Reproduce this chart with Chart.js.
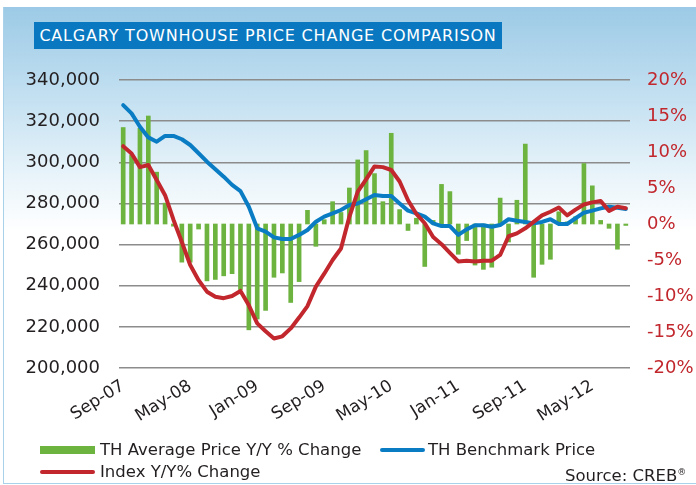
<!DOCTYPE html>
<html>
<head>
<meta charset="utf-8">
<script src="https://cdn.jsdelivr.net/npm/chart.js@4"></script>
<style>
  html, body { margin: 0; padding: 0; background: #fff; }
  #wrap { position: relative; width: 696px; height: 485px; overflow: hidden; font-family: "DejaVu Sans", sans-serif; }
  #panel {
    position: absolute; left: 3px; top: 7px; width: 700px; height: 476px;
    border-left: 1px solid #a9d1ea; border-bottom: 1px solid #a9d1ea;
    background: linear-gradient(#9ccae6 0px, #c3e0f1 90px, #e9f4fa 170px, #ffffff 225px, #ffffff 100%);
  }
  #title {
    position: absolute; left: 34px; top: 22px; width: 468px; height: 27px;
    background: #0a78c0; color: #fff; font-size: 16px; line-height: 27px;
    letter-spacing: 0.8px; text-align: center; white-space: nowrap;
  }
  canvas { position: absolute; left: 0; top: 0; }
  .leg { position: absolute; font-size: 16.5px; color: #231f20; white-space: nowrap; line-height: 20px; }
  .sw { position: absolute; }
  sup { font-size: 9px; line-height: 0; vertical-align: 6px; }
</style>
</head>
<body>
<div id="wrap">
  <div id="panel"></div>
  <div id="title">CALGARY TOWNHOUSE PRICE CHANGE COMPARISON</div>
  <canvas id="myChart" width="696" height="485"></canvas>
  <div class="sw" style="left:40px; top:446px; width:55px; height:8px; background:#6db33f;"></div>
  <div class="leg" style="left:100px; top:440px;">TH Average Price Y/Y % Change</div>
  <div class="sw" style="left:380px; top:448px; width:45px; height:4px; border-radius:2px; background:#0a7cc4;"></div>
  <div class="leg" style="left:428px; top:440px;">TH Benchmark Price</div>
  <div class="sw" style="left:40px; top:470px; width:55px; height:4px; border-radius:2px; background:#c1272d;"></div>
  <div class="leg" style="left:100px; top:462px;">Index Y/Y% Change</div>
  <div class="leg" style="left:565px; top:466px;">Source: CREB<sup>®</sup></div>
</div>
<script>
'use strict';

const months = [
  'Sep-07','Oct-07','Nov-07','Dec-07',
  'Jan-08','Feb-08','Mar-08','Apr-08','May-08','Jun-08','Jul-08','Aug-08','Sep-08','Oct-08','Nov-08','Dec-08',
  'Jan-09','Feb-09','Mar-09','Apr-09','May-09','Jun-09','Jul-09','Aug-09','Sep-09','Oct-09','Nov-09','Dec-09',
  'Jan-10','Feb-10','Mar-10','Apr-10','May-10','Jun-10','Jul-10','Aug-10','Sep-10','Oct-10','Nov-10','Dec-10',
  'Jan-11','Feb-11','Mar-11','Apr-11','May-11','Jun-11','Jul-11','Aug-11','Sep-11','Oct-11','Nov-11','Dec-11',
  'Jan-12','Feb-12','Mar-12','Apr-12','May-12','Jun-12','Jul-12','Aug-12','Sep-12'
];

// TH average price y/y % change (bars, right axis)
const avgPriceChange = [
  13.4, 9.6, 13.3, 15.0,
  7.2, 2.9, -0.3, -5.3, -5.3, -0.7, -7.9, -7.7, -7.2, -6.9, -9.1, -14.7,
  -13.2, -12.0, -7.4, -6.8, -10.9, -8.0, 1.9, -3.1, 0.6, 3.1, 1.6, 5.0,
  8.9, 10.2, 7.0, 3.1, 12.6, 2.0, -0.9, 0.8, -5.9, 0.5, 5.5, 4.5,
  -4.2, -2.3, -5.7, -6.3, -6.0, 3.6, -2.5, 3.3, 11.1, -7.4, -5.6, -4.9,
  1.7, 0.3, 1.0, 8.4, 5.3, 0.5, -0.6, -3.5, -0.2
];

// TH benchmark price (left axis)
const benchmarkPrice = [
  327800, 323800, 317300, 312100,
  310000, 312800, 312800, 311200, 308400, 304400, 300300, 296600, 293000, 289000, 286000, 278400,
  267900, 266300, 263500, 262700, 262700, 264700, 267100, 271100, 273600, 275200, 276800, 279200,
  280000, 282000, 284100, 283600, 283600, 280000, 276500, 275200, 273600, 270300, 269000, 269000,
  264700, 267400, 269400, 269400, 268700, 269500, 272300, 271600, 271000, 270300, 271000, 272300,
  270000, 270000, 272800, 275500, 276500, 277600, 278400, 277900, 277300
];

// Index y/y % change (right axis)
const indexChange = [
  10.8, 9.8, 7.9, 8.2,
  6.1, 4.0, 0.6, -2.5, -5.7, -7.8, -9.4, -10.1, -10.3, -10.0, -9.3, -11.3,
  -13.8, -14.9, -15.9, -15.6, -14.5, -13.0, -11.4, -8.7, -6.9, -5.0, -3.4, 1.0,
  4.5, 6.2, 8.0, 7.9, 7.5, 5.9, 3.3, 1.4, 0.1, -1.8, -2.8, -4.0,
  -5.2, -5.1, -5.2, -5.1, -5.1, -4.3, -1.7, -1.3, -0.6, 0.3, 1.2, 1.7,
  2.3, 1.2, 2.0, 2.7, 3.0, 3.2, 1.8, 2.4, 2.2
];

const tickFont = { family: 'DejaVu Sans', size: 18 };

const ctx = document.getElementById('myChart');

const config = {
  type: 'bar',
  data: {
    labels: months,
    datasets: [
      {
        type: 'line',
        label: 'Index Y/Y% Change',
        data: indexChange,
        yAxisID: 'yPct',
        borderColor: '#c1272d',
        borderWidth: 4,
        pointRadius: 0,
        tension: 0,
        borderJoinStyle: 'round',
        borderCapStyle: 'round',
        order: 0
      },
      {
        type: 'line',
        label: 'TH Benchmark Price',
        data: benchmarkPrice,
        yAxisID: 'yPrice',
        borderColor: '#0a7cc4',
        borderWidth: 4,
        pointRadius: 0,
        tension: 0,
        borderJoinStyle: 'round',
        borderCapStyle: 'round',
        order: 1
      },
      {
        label: 'TH Average Price Y/Y % Change',
        data: avgPriceChange,
        yAxisID: 'yPct',
        backgroundColor: '#6db33f',
        barThickness: 4,
        order: 2
      }
    ]
  },
  options: {
    responsive: false,
    animation: false,
    layout: { padding: { top: 80, left: 0, right: 0, bottom: 0 } },
    plugins: {
      legend: { display: false },
      tooltip: { enabled: false }
    },
    scales: {
      x: {
        offset: true,
        grid: { display: false, drawTicks: false },
        border: { display: false },
        ticks: {
          autoSkip: false,
          minRotation: 32,
          maxRotation: 32,
          padding: 8,
          color: '#231f20',
          font: { family: 'DejaVu Sans', size: 17 },
          callback: (val, i) => (i % 8 === 0 ? months[i] : '')
        },
        afterFit: (s) => { s.height = 117; }
      },
      yPrice: {
        position: 'left',
        min: 200000,
        max: 340000,
        grid: { color: '#8c8c8c', lineWidth: 1.5, drawTicks: false },
        border: { display: false },
        ticks: {
          stepSize: 20000,
          padding: 19,
          color: '#231f20',
          font: tickFont,
          callback: (v) => v.toLocaleString('en-US')
        },
        afterFit: (s) => { s.width = 119; }
      },
      yPct: {
        position: 'right',
        min: -20,
        max: 20,
        grid: { display: false, drawTicks: false },
        border: { display: false },
        ticks: {
          stepSize: 5,
          padding: 17,
          color: '#c1272d',
          font: tickFont,
          callback: (v) => v + '%'
        },
        afterFit: (s) => { s.width = 66; }
      }
    }
  }
};

new Chart(ctx, config);
</script>
</body>
</html>
